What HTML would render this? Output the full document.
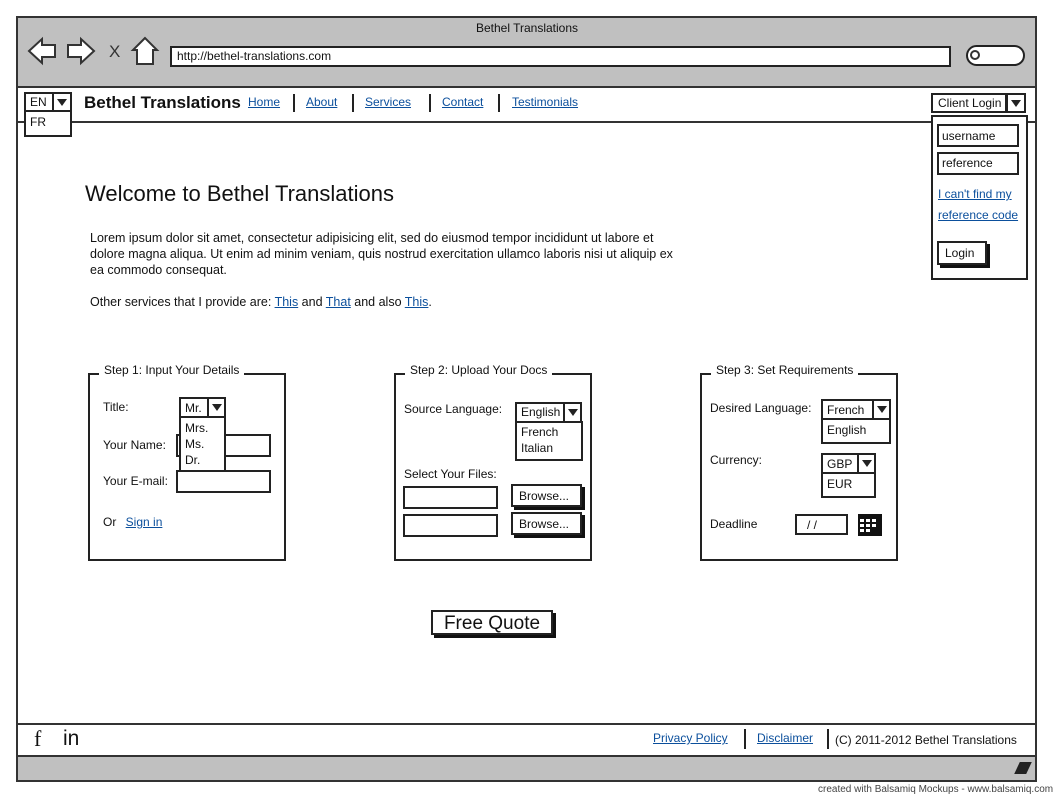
<!DOCTYPE html>
<html><head><meta charset="utf-8"><style>
*{box-sizing:border-box;margin:0;padding:0}
body{width:1054px;height:798px;background:#fff;position:relative;font-family:"Liberation Sans",sans-serif;font-size:12px;color:#111;overflow:hidden}
.a{position:absolute;white-space:nowrap}
.b{position:absolute;border:2px solid #222;background:#fff}
.l{color:#0b4f9c;text-decoration:underline}
.sep{position:absolute;width:2px;background:#222}
.sh{box-shadow:3px 3px 0 #111}
.arr{position:absolute;border:2px solid #222;background:#fff}
.arr:after{content:"";position:absolute;left:3px;top:5px;border-left:5px solid transparent;border-right:5px solid transparent;border-top:7px solid #222}
</style></head><body>
<div class="a" style="left:16px;top:16px;width:1021px;height:766px;border:2px solid #333;background:#fff"></div>
<div class="a" style="left:18px;top:18px;width:1017px;height:70px;background:#c0c0c0;border-bottom:2px solid #333"></div>
<div class="a" style="left:0;top:21px;width:1054px;text-align:center;font-size:12px">Bethel Translations</div>
<svg class="a" style="left:26px;top:36px" width="135" height="32">
<path d="M3 15 L16 3 L16 9 L29 9 L29 21 L16 21 L16 27 Z" fill="#fff" stroke="#333" stroke-width="2"/>
<path d="M68 15 L55 3 L55 9 L42 9 L42 21 L55 21 L55 27 Z" fill="#fff" stroke="#333" stroke-width="2"/>
<text x="83" y="21" font-family="Liberation Sans" font-size="17" fill="#333">X</text>
<path d="M119 2 L107 14 L111 14 L111 28 L127 28 L127 14 L131 14 Z" fill="#fff" stroke="#333" stroke-width="2"/>
</svg>
<div class="b" style="left:170px;top:46px;width:781px;height:21px"></div>
<div class="a" style="left:177px;top:49px;font-size:12px">http://bethel-translations.com</div>
<div class="b" style="left:966px;top:45px;width:59px;height:21px;border-radius:11px"></div>
<div class="a" style="left:970px;top:50px;width:10px;height:10px;border:2px solid #333;border-radius:50%"></div>
<div class="a" style="left:18px;top:121px;width:1017px;height:2px;background:#333"></div>
<div class="b" style="left:24px;top:92px;width:48px;height:20px"></div>
<div class="a" style="left:30px;top:95px">EN</div>
<div class="arr" style="left:52px;top:92px;width:20px;height:20px"></div>
<div class="b" style="left:24px;top:110px;width:48px;height:27px"></div>
<div class="a" style="left:30px;top:115px">FR</div>
<div class="a" style="left:84px;top:93px;font-size:17px;font-weight:bold">Bethel Translations</div>
<div class="a l" style="left:248px;top:95px">Home</div>
<div class="sep" style="left:293px;top:94px;height:18px"></div>
<div class="a l" style="left:306px;top:95px">About</div>
<div class="sep" style="left:352px;top:94px;height:18px"></div>
<div class="a l" style="left:365px;top:95px">Services</div>
<div class="sep" style="left:429px;top:94px;height:18px"></div>
<div class="a l" style="left:442px;top:95px">Contact</div>
<div class="sep" style="left:498px;top:94px;height:18px"></div>
<div class="a l" style="left:512px;top:95px">Testimonials</div>
<div class="b" style="left:931px;top:93px;width:76px;height:20px"></div>
<div class="a" style="left:938px;top:96px">Client Login</div>
<div class="arr" style="left:1006px;top:93px;width:20px;height:20px"></div>
<div class="b" style="left:931px;top:115px;width:97px;height:165px"></div>
<div class="b" style="left:937px;top:124px;width:82px;height:23px"></div>
<div class="a" style="left:942px;top:129px">username</div>
<div class="b" style="left:937px;top:152px;width:82px;height:23px"></div>
<div class="a" style="left:942px;top:156px">reference</div>
<div class="a l" style="left:938px;top:187px">I can't find my</div>
<div class="a l" style="left:938px;top:208px">reference code</div>
<div class="b sh" style="left:937px;top:241px;width:50px;height:24px"></div>
<div class="a" style="left:945px;top:246px">Login</div>
<div class="a" style="left:85px;top:181px;font-size:22px">Welcome to Bethel Translations</div>
<div class="a" style="left:90px;top:230px;line-height:16px;font-size:12.5px">Lorem ipsum dolor sit amet, consectetur adipisicing elit, sed do eiusmod tempor incididunt ut labore et<br>dolore magna aliqua. Ut enim ad minim veniam, quis nostrud exercitation ullamco laboris nisi ut aliquip ex<br>ea commodo consequat.</div>
<div class="a" style="left:90px;top:295px;font-size:12.5px">Other services that I provide are: <span class="l">This</span> and <span class="l">That</span> and also <span class="l">This</span>.</div>
<div class="b" style="left:88px;top:373px;width:198px;height:188px"></div>
<div class="a" style="left:99px;top:363px;background:#fff;padding:0 5px">Step 1: Input Your Details</div>
<div class="a" style="left:103px;top:400px">Title:</div>
<div class="a" style="left:103px;top:438px">Your Name:</div>
<div class="b" style="left:176px;top:434px;width:95px;height:23px"></div>
<div class="a" style="left:103px;top:474px">Your E-mail:</div>
<div class="b" style="left:176px;top:470px;width:95px;height:23px"></div>
<div class="a" style="left:103px;top:515px">Or <span class="l" style="margin-left:6px">Sign in</span></div>
<div class="b" style="left:179px;top:397px;width:30px;height:21px"></div>
<div class="a" style="left:185px;top:401px">Mr.</div>
<div class="arr" style="left:207px;top:397px;width:19px;height:21px"></div>
<div class="b" style="left:179px;top:416px;width:47px;height:56px"></div>
<div class="a" style="left:185px;top:420px;line-height:16px">Mrs.<br>Ms.<br>Dr.</div>
<div class="b" style="left:394px;top:373px;width:198px;height:188px"></div>
<div class="a" style="left:405px;top:363px;background:#fff;padding:0 5px">Step 2: Upload Your Docs</div>
<div class="a" style="left:404px;top:402px">Source Language:</div>
<div class="b" style="left:515px;top:402px;width:50px;height:21px"></div>
<div class="a" style="left:521px;top:405px">English</div>
<div class="arr" style="left:563px;top:402px;width:19px;height:21px"></div>
<div class="b" style="left:515px;top:421px;width:68px;height:40px"></div>
<div class="a" style="left:521px;top:424px;line-height:16px">French<br>Italian</div>
<div class="a" style="left:404px;top:467px">Select Your Files:</div>
<div class="b" style="left:403px;top:486px;width:95px;height:23px"></div>
<div class="b" style="left:403px;top:514px;width:95px;height:23px"></div>
<div class="b sh" style="left:511px;top:484px;width:71px;height:23px"></div>
<div class="a" style="left:519px;top:489px">Browse...</div>
<div class="b sh" style="left:511px;top:512px;width:71px;height:23px"></div>
<div class="a" style="left:519px;top:517px">Browse...</div>
<div class="b" style="left:700px;top:373px;width:198px;height:188px"></div>
<div class="a" style="left:711px;top:363px;background:#fff;padding:0 5px">Step 3: Set Requirements</div>
<div class="a" style="left:710px;top:401px">Desired Language:</div>
<div class="b" style="left:821px;top:399px;width:53px;height:21px"></div>
<div class="a" style="left:827px;top:403px">French</div>
<div class="arr" style="left:872px;top:399px;width:19px;height:21px"></div>
<div class="b" style="left:821px;top:418px;width:70px;height:26px"></div>
<div class="a" style="left:827px;top:423px">English</div>
<div class="a" style="left:710px;top:453px">Currency:</div>
<div class="b" style="left:821px;top:453px;width:38px;height:21px"></div>
<div class="a" style="left:827px;top:457px">GBP</div>
<div class="arr" style="left:857px;top:453px;width:19px;height:21px"></div>
<div class="b" style="left:821px;top:472px;width:55px;height:26px"></div>
<div class="a" style="left:827px;top:477px">EUR</div>
<div class="a" style="left:710px;top:517px">Deadline</div>
<div class="b" style="left:795px;top:514px;width:53px;height:21px"></div>
<div class="a" style="left:807px;top:518px">/ /</div>
<svg class="a" style="left:857px;top:513px" width="26" height="26"><rect x="1" y="1" width="24" height="22" fill="#111"/><g fill="#fff"><rect x="3" y="6" width="4" height="3"/><rect x="9" y="6" width="4" height="3"/><rect x="15" y="6" width="4" height="3"/><rect x="3" y="11" width="4" height="3"/><rect x="9" y="11" width="4" height="3"/><rect x="15" y="11" width="4" height="3"/><rect x="3" y="16" width="4" height="3"/><rect x="9" y="16" width="4" height="3"/></g></svg>
<div class="b sh" style="left:431px;top:610px;width:122px;height:25px"></div>
<div class="a" style="left:431px;top:611px;width:122px;height:25px;line-height:25px;text-align:center;font-size:19px">Free Quote</div>
<div class="a" style="left:16px;top:723px;width:1021px;height:2px;background:#333"></div>
<div class="a" style="left:16px;top:755px;width:1021px;height:2px;background:#333"></div>
<div class="a" style="left:18px;top:757px;width:1017px;height:23px;background:#c0c0c0"></div>
<div class="a" style="left:34px;top:726px;font-size:22px;font-family:'Liberation Serif',serif">f</div>
<div class="a" style="left:63px;top:727px;font-size:21px">in</div>
<div class="a l" style="left:653px;top:731px">Privacy Policy</div>
<div class="sep" style="left:744px;top:729px;height:20px"></div>
<div class="a l" style="left:757px;top:731px">Disclaimer</div>
<div class="sep" style="left:827px;top:729px;height:20px"></div>
<div class="a" style="left:835px;top:733px">(C) 2011-2012 Bethel Translations</div>
<div class="a" style="left:1017px;top:762px;width:12px;height:12px;background:#222;transform:skewX(-25deg)"></div>
<div class="a" style="left:818px;top:784px;font-size:10px;color:#444">created with Balsamiq Mockups - www.balsamiq.com</div>
</body></html>
